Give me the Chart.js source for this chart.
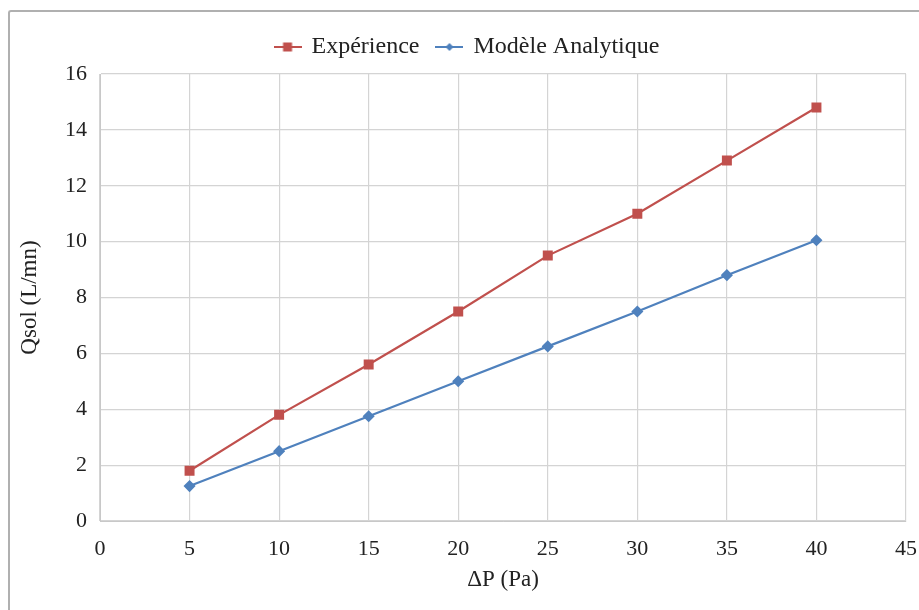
<!DOCTYPE html>
<html>
<head>
<meta charset="utf-8">
<script src="https://cdn.jsdelivr.net/npm/chart.js@4/dist/chart.umd.min.js"></script>
<style>
  html, body { margin: 0; padding: 0; background: #fff; }
  #wrap { position: relative; width: 919px; height: 610px; }
  #frame {
    position: absolute; left: 8px; top: 10px; right: -10px; bottom: -10px;
    border-left: 2px solid #b0b0b0; border-top: 2px solid #b0b0b0;
    border-top-left-radius: 3px; pointer-events: none;
  }
  canvas { position: absolute; left: 0; top: 0; }
</style>
</head>
<body>
<div id="wrap">
  <canvas id="chart" width="919" height="610"></canvas>
  <div id="frame"></div>
</div>
<script>
// Données
const pressions = [5, 10, 15, 20, 25, 30, 35, 40];
const experience = [1.8, 3.8, 5.6, 7.5, 9.5, 11.0, 12.9, 14.8];
const modele = [1.25, 2.5, 3.75, 5.0, 6.25, 7.5, 8.8, 10.05];

const rouge = '#C0504D';
const bleu = '#4F81BD';

// Icône de légende : segment + marqueur
function legendIcon(color, shape) {
    const c = document.createElement('canvas');
    c.width = 28; c.height = 12;
    const g = c.getContext('2d');
    g.strokeStyle = color;
    g.lineWidth = 2;
    g.beginPath();
    g.moveTo(0, 6); g.lineTo(28, 6);
    g.stroke();
    g.fillStyle = color;
    if (shape === 'rect') {
        g.fillRect(9.5, 1.5, 9, 9);
    } else {
        g.beginPath();
        g.moveTo(14, 2); g.lineTo(18, 6); g.lineTo(14, 10); g.lineTo(10, 6);
        g.closePath(); g.fill();
    }
    return c;
}

// Espace supplémentaire sous la légende
const legendGap = {
    id: 'legendGap',
    afterInit(chart) {
        const fit = chart.legend.fit;
        chart.legend.fit = function() {
            fit.call(this);
            this.height += 5;
        };
    }
};

const serif = "'Liberation Serif', 'Times New Roman', serif";

new Chart(document.getElementById('chart'), {
    type: 'line',
    data: {
        datasets: [{
            label: 'Expérience',
            data: pressions.map((x, i) => ({ x: x, y: experience[i] })),
            borderColor: rouge,
            backgroundColor: rouge,
            borderWidth: 2.2,
            pointStyle: 'rect',
            pointRadius: 5.5,
            pointHoverRadius: 5.5,
            tension: 0
        }, {
            label: 'Modèle Analytique',
            data: pressions.map((x, i) => ({ x: x, y: modele[i] })),
            borderColor: bleu,
            backgroundColor: bleu,
            borderWidth: 2.2,
            pointStyle: 'rectRot',
            pointRadius: 4.5,
            pointHoverRadius: 4.5,
            tension: 0
        }]
    },
    plugins: [legendGap],
    options: {
        responsive: false,
        animation: false,
        layout: { padding: { left: 16, right: 0, top: 17, bottom: 0 } },
        plugins: {
            tooltip: { enabled: false },
            legend: {
                position: 'top',
                labels: {
                    color: '#222',
                    font: { family: serif, size: 24 },
                    usePointStyle: true,
                    padding: 18,
                    boxWidth: 28,
                    generateLabels: function(chart) {
                        return chart.data.datasets.map((ds, i) => ({
                            text: ds.label,
                            fillStyle: ds.borderColor,
                            strokeStyle: ds.borderColor,
                            pointStyle: legendIcon(ds.borderColor, i === 0 ? 'rect' : 'diamond'),
                            datasetIndex: i,
                            fontColor: '#222'
                        }));
                    }
                }
            }
        },
        scales: {
            x: {
                type: 'linear',
                min: 0,
                max: 45,
                ticks: { stepSize: 5, color: '#222', font: { family: serif, size: 22 }, padding: 15 },
                grid: { color: '#d4d4d4', lineWidth: 1.2, drawTicks: false },
                border: { color: '#c8c8c8' },
                title: { display: true, text: 'ΔP (Pa)', color: '#222', font: { family: serif, size: 23 }, padding: { top: 6, bottom: 16 } },
                afterFit: function(scale) {
                    scale.height = 89;
                    scale.paddingRight = 13;
                }
            },
            y: {
                min: 0,
                max: 16,
                ticks: { stepSize: 2, color: '#222', font: { family: serif, size: 22 }, padding: 13 },
                grid: { color: '#d4d4d4', lineWidth: 1.2, drawTicks: false },
                border: { color: '#c8c8c8' },
                title: { display: true, text: 'Qsol (L/mn)', color: '#222', font: { family: serif, size: 23 }, padding: { top: 0, bottom: 6 } },
                afterFit: function(scale) { scale.width = 84; }
            }
        }
    }
});
</script>
</body>
</html>
